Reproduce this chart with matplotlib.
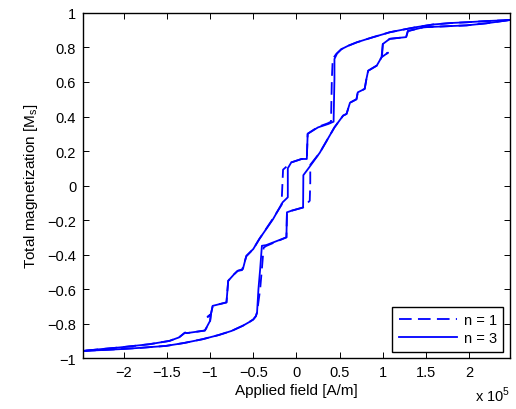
import numpy as np
import matplotlib
matplotlib.use("Agg")
import matplotlib.pyplot as plt
from matplotlib.ticker import MultipleLocator, FuncFormatter
from matplotlib.lines import Line2D

plt.rcParams['font.family'] = ['Liberation Sans', 'DejaVu Sans']
plt.rcParams['font.size'] = 10.5

# applied field in units of 1e5 A/m, magnetization in units of Ms
# n = 3 (solid)
h_down_3 = [2.47, 2.2, 1.97, 1.8, 1.58, 1.39, 1.2, 1.08, 1.0, 0.89, 0.80, 0.70, 0.60, 0.52,
            0.47, 0.44, 0.44, 0.43, 0.37, 0.25, 0.13, 0.12, 0.06, -0.06, -0.10, -0.10, -0.16,
            -0.27, -0.43, -0.50, -0.58, -0.62, -0.68, -0.72, -0.79, -0.81, -0.89, -0.97,
            -0.99, -1.00, -1.06, -1.27, -1.29, -1.36, -1.47, -1.70, -1.9, -2.05, -2.25, -2.47]
m_down_3 = [0.959, 0.953, 0.946, 0.942, 0.933, 0.918, 0.90, 0.888, 0.876, 0.86, 0.846, 0.83,
            0.81, 0.79, 0.765, 0.733, 0.62, 0.37, 0.357, 0.337, 0.30, 0.154, 0.154, 0.134,
            0.10, -0.068, -0.097, -0.194, -0.31, -0.368, -0.407, -0.484, -0.494, -0.513,
            -0.552, -0.677, -0.687, -0.697, -0.745, -0.784, -0.84, -0.855, -0.852, -0.88,
            -0.90, -0.919, -0.93, -0.938, -0.947, -0.958]
h_up_3 = [-2.47, -2.25, -2.05, -1.8, -1.51, -1.3, -1.085, -0.9, -0.75, -0.62, -0.55, -0.50,
          -0.47, -0.456, -0.44, -0.42, -0.40, -0.35, -0.116, -0.11, -0.058, 0.077, 0.08, 0.134,
          0.27, 0.44, 0.54, 0.58, 0.62, 0.695, 0.71, 0.79, 0.81, 0.83, 0.93, 0.985, 1.0, 1.08,
          1.27, 1.29, 1.47, 1.7, 1.97, 2.2, 2.47]
m_up_3 = [-0.958, -0.953, -0.948, -0.94, -0.929, -0.912, -0.89, -0.866, -0.842, -0.812,
          -0.792, -0.776, -0.757, -0.735, -0.60, -0.484, -0.349, -0.345, -0.30, -0.155,
          -0.146, -0.127, 0.06, 0.096, 0.19, 0.337, 0.405, 0.415, 0.48, 0.50, 0.54, 0.56,
          0.617, 0.665, 0.695, 0.743, 0.82, 0.85, 0.86, 0.895, 0.917, 0.922, 0.928, 0.94,
          0.959]

# n = 1 (dashed)
h_down_1 = [2.47, 2.2, 1.97, 1.8, 1.58, 1.39, 1.2, 1.08, 1.0, 0.89, 0.80, 0.70, 0.60, 0.52,
            0.46, 0.42, 0.41, 0.40, 0.36, 0.25, 0.13, 0.12, 0.06, -0.06, -0.155, -0.17, -0.17,
            -0.27, -0.43, -0.50, -0.58, -0.63, -0.68, -0.72, -0.79, -0.81, -0.89, -0.97,
            -0.99, -1.06, -0.99, -1.00, -1.06, -1.27, -1.29, -1.36, -1.47, -1.70, -1.9, -2.05,
            -2.25, -2.47]
m_down_1 = [0.959, 0.953, 0.946, 0.942, 0.933, 0.918, 0.90, 0.888, 0.876, 0.86, 0.846, 0.83,
            0.81, 0.79, 0.762, 0.733, 0.62, 0.37, 0.36, 0.34, 0.30, 0.154, 0.154, 0.134,
            0.092, -0.08, -0.11, -0.19, -0.31, -0.368, -0.41, -0.49, -0.494, -0.513, -0.552,
            -0.677, -0.687, -0.70, -0.745, -0.774, -0.745, -0.79, -0.84, -0.855, -0.852, -0.88,
            -0.90, -0.919, -0.93, -0.938, -0.947, -0.958]
h_up_1 = [-2.47, -2.25, -2.05, -1.8, -1.51, -1.3, -1.085, -0.9, -0.75, -0.62, -0.55, -0.50,
          -0.47, -0.456, -0.42, -0.40, -0.38, -0.35, -0.116, -0.11, -0.058, 0.077, 0.154, 0.16,
          0.16, 0.27, 0.44, 0.54, 0.58, 0.62, 0.695, 0.71, 0.79, 0.81, 0.83, 0.93, 0.985,
          1.06, 0.99, 1.0, 1.08, 1.27, 1.29, 1.47, 1.7, 1.97, 2.2, 2.47]
m_up_1 = [-0.958, -0.953, -0.948, -0.94, -0.929, -0.912, -0.89, -0.866, -0.842, -0.812,
          -0.792, -0.776, -0.757, -0.735, -0.60, -0.484, -0.36, -0.35, -0.30, -0.155, -0.146,
          -0.127, -0.088, 0.02, 0.12, 0.19, 0.337, 0.405, 0.415, 0.48, 0.50, 0.54, 0.56,
          0.617, 0.665, 0.695, 0.743, 0.77, 0.745, 0.82, 0.85, 0.86, 0.895, 0.917, 0.922,
          0.928, 0.94, 0.959]

x_ticks = [-2, -1.5, -1, -0.5, 0, 0.5, 1, 1.5, 2]
legend_labels = ["n = 1", "n = 3"]

fig = plt.figure(figsize=(5.16, 4.10), dpi=100)
ax = fig.add_axes([0.161, 0.124, 0.827, 0.842])

blue = (0, 0, 1)
lw = 1.3
ax.plot(h_down_3, m_down_3, color=blue, lw=lw)
ax.plot(h_up_3, m_up_3, color=blue, lw=lw)
ax.plot(h_down_1, m_down_1, color=blue, lw=lw, dashes=(7, 3.5))
ax.plot(h_up_1, m_up_1, color=blue, lw=lw, dashes=(7, 3.5))

ax.set_xlim(-2.47, 2.47)
ax.set_ylim(-1, 1)
ax.set_xticks(x_ticks)
ax.yaxis.set_major_locator(MultipleLocator(0.2))
fmt = FuncFormatter(lambda v, p: ("%g" % round(v, 6)).replace("-", "\u2212"))
ax.xaxis.set_major_formatter(fmt)
ax.yaxis.set_major_formatter(fmt)
ax.tick_params(direction='in', top=True, right=True, length=4, width=0.7, pad=5)
for s in ax.spines.values():
    s.set_linewidth(1.0)

ax.set_xlabel("Applied field [A/m]", fontsize=11, labelpad=3)
ax.set_ylabel("Total magnetization [M$_\\mathregular{s}$]", fontsize=11, labelpad=5)
ax.text(1.0, -0.125, "x 10$^\\mathregular{5}$", transform=ax.transAxes, ha='right',
        va='baseline')

handles = [Line2D([], [], color=blue, lw=lw, dashes=(7, 3.5)),
           Line2D([], [], color=blue, lw=lw)]
leg = ax.legend(handles, legend_labels, loc='lower right', fancybox=False, framealpha=1,
                edgecolor='black', handlelength=4.0, borderaxespad=0.45,
                borderpad=0.45, labelspacing=0.25, handletextpad=0.45)
leg.get_frame().set_linewidth(1.0)

fig.savefig("out.png", dpi=100)
